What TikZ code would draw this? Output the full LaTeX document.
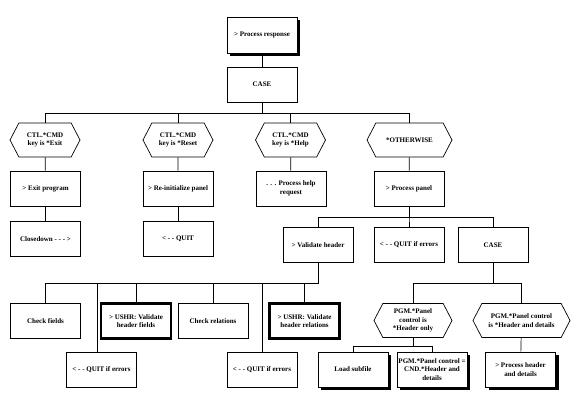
\documentclass[tikz,border=0pt]{standalone}
\usepackage{fontspec}
\setmainfont{Liberation Serif}
\usetikzlibrary{shapes.symbols,shadows}

\begin{document}
\begin{tikzpicture}[x=1pt,y=-1pt,
	font=\fontsize{7}{8.5}\selectfont\bfseries,
	box/.style={draw,line width=.7pt,fill=white,minimum width=70pt,minimum height=35pt,align=center,inner sep=1pt},
	shbox/.style={box,drop shadow={shadow xshift=3pt,shadow yshift=-3pt,opacity=1,fill=black}},
	usrbox/.style={box,line width=2.4pt},
	cond/.style={draw,line width=.7pt,signal,signal to=west and east,signal pointer angle=125,minimum width=70pt,minimum height=34pt,align=center,inner sep=1pt},
	link/.style={line width=.7pt}]
	\useasboundingbox (0,0) rectangle (580,403);
	
	\node[shbox,minimum height=36pt] (pr) at (262,35) {> Process response};
	\node[box] (case) at (262,84.5) {CASE};
	
	\node[cond] (h1) at (45,140) {CTL.*CMD\\key is *Exit};
	\node[cond] (h2) at (178,140) {CTL.*CMD\\key is *Reset};
	\node[cond] (h3) at (290.5,140) {CTL.*CMD\\key is *Help};
	\node[cond,minimum width=85pt] (h4) at (409.5,140) {*OTHERWISE};
	
	\node[box] (e1) at (45.5,188.5) {> Exit program};
	\node[box] (e2) at (178,188.5) {> Re-initialize panel};
	\node[box] (e3) at (291,188.5) {. . . Process help\\request};
	\node[box] (e4) at (409,188.5) {> Process panel};
	
	\node[box] (c1) at (45.5,239) {Closedown - - - >};
	\node[box] (c2) at (178,239) {< - - QUIT};
	
	\node[box] (vh) at (318,245) {> Validate header};
	\node[box] (qe) at (409,245) {< - - QUIT if errors};
	\node[box] (k) at (493,245) {CASE};
	
	\node[box] (cf) at (45.5,321) {Check fields};
	\node[usrbox] (uf) at (136,321) {> USHR: Validate\\header fields};
	\node[box] (cr) at (213,321) {Check relations};
	\node[usrbox] (ur) at (304.5,321) {> USHR: Validate\\header relations};
	\node[box] (q1) at (101.5,369.5) {< - - QUIT if errors};
	\node[box] (q2) at (262,369.5) {< - - QUIT if errors};
	
	\node[cond,minimum width=78pt] (p1) at (413,320.5) {PGM.*Panel\\control is\\*Header only};
	\node[cond,minimum width=97pt] (p2) at (521.5,320.5) {PGM.*Panel control\\is *Header and details};
	\node[shbox] (ls) at (353,369.5) {Load subfile};
	\node[shbox] (cnd) at (432,369.5) {PGM.*Panel control =\\CND.*Header and\\details};
	\node[shbox] (ph) at (520.5,369.5) {> Process header\\and details};
	
	\draw[link] (pr) -- (case);
	\foreach \n in {h1,h2,h3,h4}
		\draw[link] (case.south) -- ++(0,11) -| (\n.north);
	\foreach \a/\b in {h1/e1,e1/c1,h2/e2,e2/c2,h3/e3,h4/e4}
		\draw[link] (\a) -- (\b);
	\foreach \n in {vh,qe,k}
		\draw[link] (e4.south) -- ++(0,11) -| (\n.north);
	\foreach \n in {cf,uf,cr,ur,q2}
		\draw[link] (vh.south) -- ++(0,20) -| (\n.north);
	\draw[link] (vh.south) -- ++(0,20) -| ([xshift=-4.5pt]q1.north);
	\foreach \n in {p1,p2}
		\draw[link] (k.south) -- ++(0,20) -| (\n.north);
	\foreach \n in {ls,cnd}
		\draw[link] (p1.south) -- ++(0,8) -| (\n.north);
	\draw[link] (p2) -- (ph);
\end{tikzpicture}
\end{document}
